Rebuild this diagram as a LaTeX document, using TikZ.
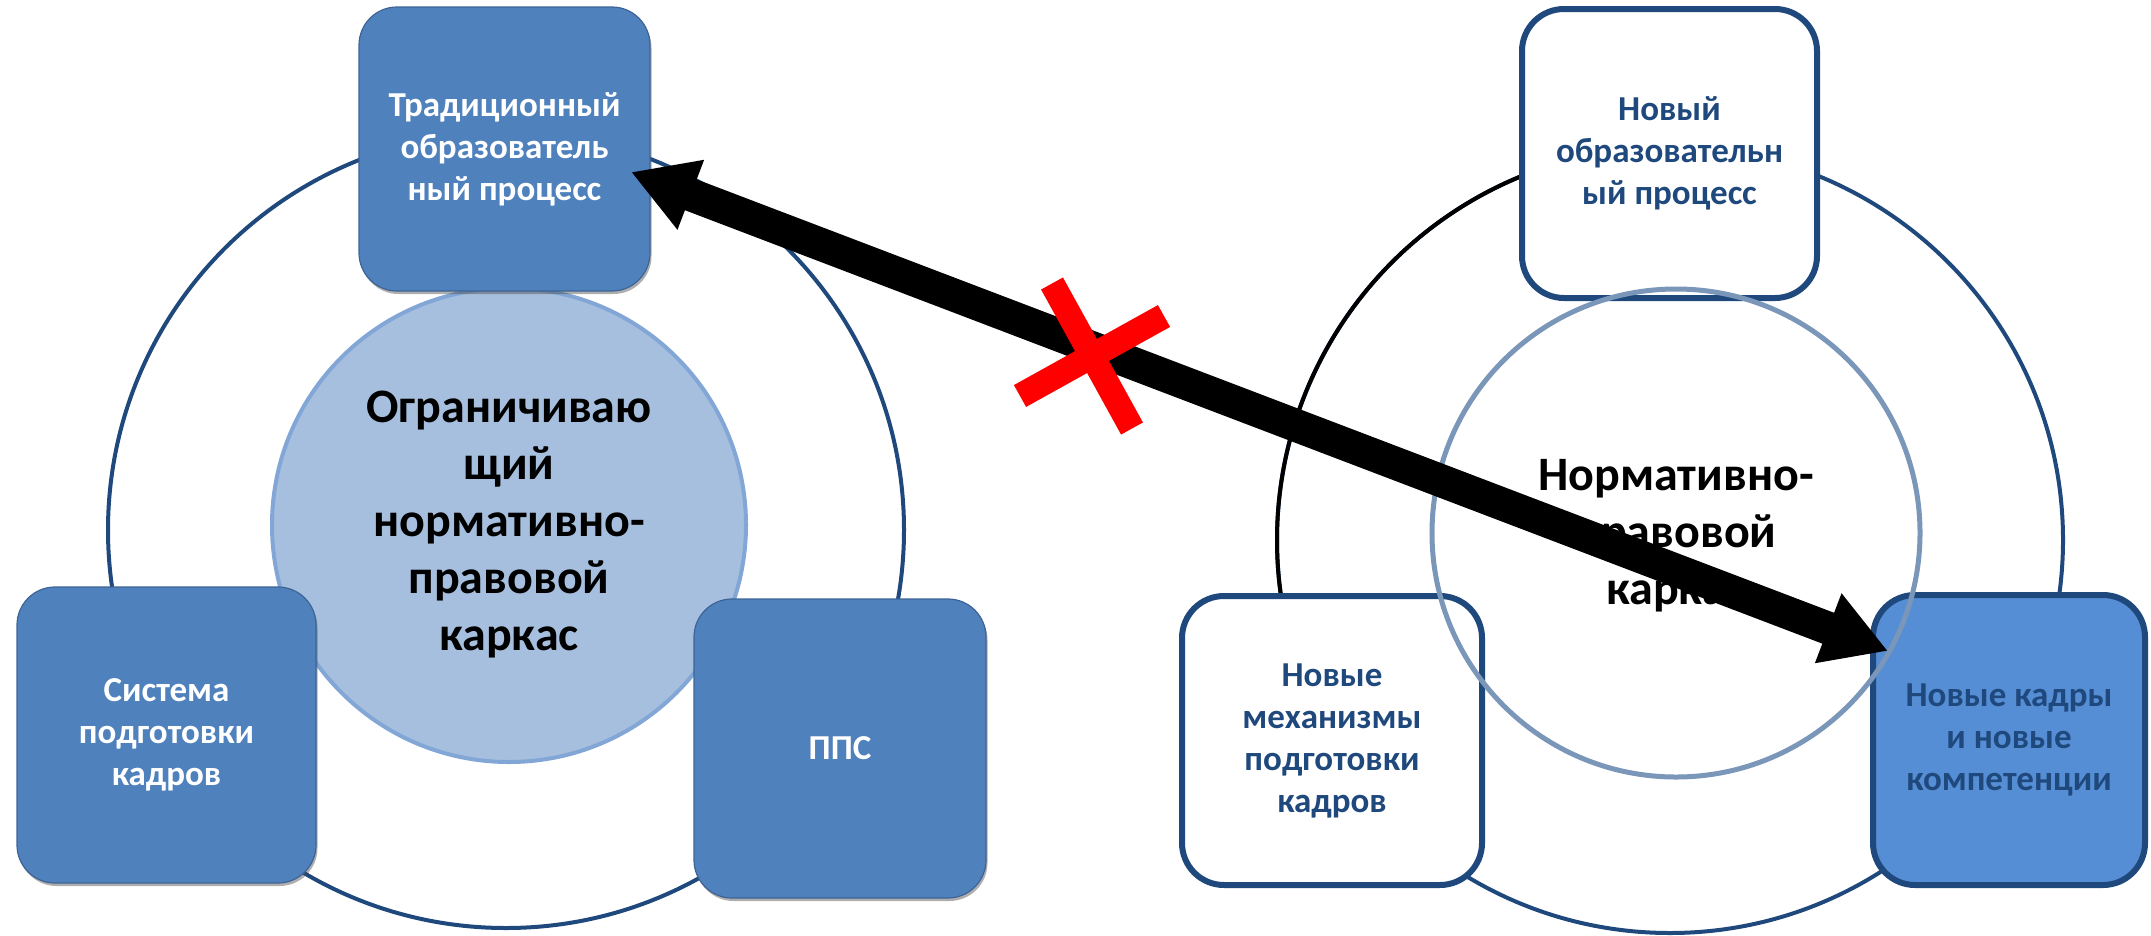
\documentclass[tikz,border=0pt]{standalone}
\usepackage{fontspec}
\setmainfont{Carlito}
\usetikzlibrary{arrows.meta,shadows}
\definecolor{boxblue}{HTML}{4F81BD}
\definecolor{boxedge}{HTML}{3E6496}
\definecolor{circfill}{HTML}{A7BFDE}
\definecolor{circedge}{HTML}{82A6D6}
\definecolor{darkblue}{HTML}{1F497D}
\definecolor{brightblue}{HTML}{558ED5}
\definecolor{ringgray}{HTML}{7A96B8}
\tikzset{
  solidbox/.style={rectangle, rounded corners=38pt, fill=boxblue, draw=boxedge, line width=1.2pt,
    text=white, align=center, font=\fontsize{35}{42}\selectfont\bfseries,
    drop shadow={shadow xshift=1.5pt, shadow yshift=-3pt, opacity=0.45, fill=black!70}},
  openbox/.style={rectangle, rounded corners=42pt, fill=white, draw=darkblue, line width=6pt,
    text=darkblue, align=center, font=\fontsize{35}{42}\selectfont\bfseries},
  ring/.style={draw=darkblue, line width=4pt},
  bigtext/.style={align=center, font=\fontsize{48}{57}\selectfont\bfseries, text=black}
}
\begin{document}
\begin{tikzpicture}[x=1pt,y=-1pt]
\useasboundingbox (0,0) rectangle (2151,935);
% ---------- left diagram ----------
\coordinate (LO) at (506,530);
\draw[ring] (LO) circle[radius=398];
\node[circle, inner sep=0pt, minimum size=474pt, fill=circfill, draw=circedge, line width=4pt] (LC) at (509,525) {};
\node[bigtext] (LCt) at (LC.center) {Ограничиваю\\щий\\нормативно-\\правовой\\каркас};
\node[solidbox, minimum width=291pt, minimum height=284pt] (T1) at (504.5,149) {Традиционный\\образователь\\ный процесс};
\node[solidbox, minimum width=299pt, minimum height=296pt] (S1) at (166.5,735) {Система\\подготовки\\кадров};
\node[solidbox, minimum width=292pt, minimum height=299pt] (P1) at (840,748.5) {ППС};
% ---------- right diagram ----------
\coordinate (RO) at (1670,540);
\draw[ring] (RO) circle[radius=393];
\draw[black, line width=4pt] (RO) ++(160:393) arc[start angle=160, end angle=260, radius=393];
\node[openbox, minimum width=295pt, minimum height=289pt] (RT) at (1669.5,153.5) {Новый\\образовательн\\ый процесс};
\node[openbox, minimum width=300pt, minimum height=289pt] (RBL) at (1332,740.5) {Новые\\механизмы\\подготовки\\кадров};
\node[openbox, fill=brightblue, minimum width=272pt, minimum height=290pt] (RBR) at (2009,740) {Новые кадры\\и новые\\компетенции};
\node[circle, inner sep=0pt, minimum size=488pt, draw=ringgray, line width=5pt] (RC) at (1676,533) {};
\node[bigtext] (RCt) at (1676,536) {Нормативно-\\правовой\\каркас};
% ---------- arrow ----------
\coordinate (arrL) at (631,172);
\coordinate (arrR) at (1888,651);
\draw[line width=33pt, {Triangle[length=64pt,width=70pt]}-{Triangle[length=64pt,width=70pt]}] (arrL) -- (arrR);
% ---------- red cross ----------
\coordinate (xc) at (1092,356);
\draw[red, line width=25pt] (xc) ++(-40,-72.5) -- ++(80,145);
\draw[red, line width=25pt] (xc) ++(-72,40) -- ++(144,-80);
\end{tikzpicture}
\end{document}
